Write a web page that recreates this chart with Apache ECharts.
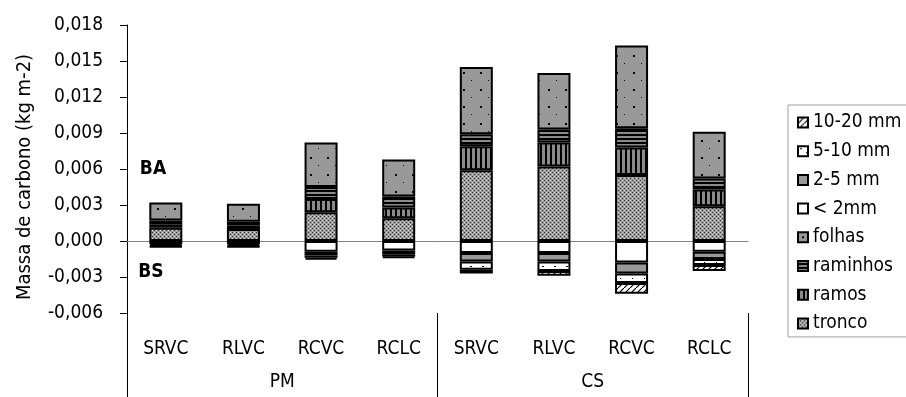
<!DOCTYPE html>
<html>
<head>
<meta charset="utf-8">
<script src="https://cdn.jsdelivr.net/npm/echarts@6/dist/echarts.min.js"></script>
<style>
html,body{margin:0;padding:0;background:#fff;}
#chart{width:906px;height:397px;}
</style>
</head>
<body>
<div id="chart"></div>
<script>
// ---- data ----
const categories = ['SRVC','RLVC','RCVC','RCLC','SRVC','RLVC','RCVC','RCLC'];
const groups = ['PM','CS'];
const yTicks = { min: -0.006, max: 0.018, interval: 0.003 };
// BA (above ground) components
const tronco   = [0.0011, 0.0010, 0.0024, 0.0019, 0.0059, 0.0062, 0.0055, 0.0029];
const ramos    = [0.0003, 0.0003, 0.0011, 0.0009, 0.0020, 0.0020, 0.0023, 0.0014];
const raminhos = [0.0003, 0.0003, 0.0010, 0.0009, 0.0010, 0.0011, 0.0016, 0.0009];
const folhas   = [0.0015, 0.0015, 0.0037, 0.0031, 0.0056, 0.0047, 0.0069, 0.0039];
// BS (below ground) components (negative)
const lt2mm    = [-0.00025, -0.00025, -0.0009, -0.0008, -0.0010, -0.0010, -0.0018, -0.0009];
const mm2_5    = [-0.0001, -0.0001, -0.0003, -0.0003, -0.0007, -0.0007, -0.0009, -0.0006];
const mm5_10   = [-0.0001, -0.0001, -0.0002, -0.0002, -0.0007, -0.0008, -0.0008, -0.0005];
const mm10_20  = [-0.00005, -0.00005, -0.00015, -0.0001, -0.0003, -0.0004, -0.0009, -0.0005];

// ---- patterns ----
function pat(w, h, draw) {
  const c = document.createElement('canvas');
  c.width = w; c.height = h;
  const g = c.getContext('2d');
  draw(g, w, h);
  return { image: c, repeat: 'repeat' };
}
const P = {
  tronco: pat(4, 4, g => {
    g.fillStyle = '#9c9c9c'; g.fillRect(0, 0, 4, 4);
    g.fillStyle = '#333'; g.fillRect(0, 0, 1, 1); g.fillRect(2, 2, 1, 1);
    g.fillStyle = '#d4d4d4'; g.fillRect(2, 0, 1, 1); g.fillRect(0, 2, 1, 1);
  }),
  ramos: pat(5, 1, g => {
    g.fillStyle = '#8a8a8a'; g.fillRect(0, 0, 5, 1);
    g.fillStyle = '#000'; g.fillRect(0, 0, 2, 1);
  }),
  raminhos: pat(1, 4, g => {
    g.fillStyle = '#8a8a8a'; g.fillRect(0, 0, 1, 4);
    g.fillStyle = '#000'; g.fillRect(0, 2, 1, 2);
  }),
  folhas: pat(17, 17, g => {
    g.fillStyle = '#999'; g.fillRect(0, 0, 17, 17);
    g.fillStyle = '#000'; g.fillRect(4, 4, 2, 2); g.fillRect(12, 12, 1, 1);
  }),
  lt2: '#ffffff',
  mm25: '#999999',
  mm510: pat(12, 8, g => {
    g.fillStyle = '#fff'; g.fillRect(0, 0, 12, 8);
    g.fillStyle = '#000'; g.fillRect(2, 2, 2, 1); g.fillRect(8, 6, 1, 1);
  }),
  mm1020: pat(6, 6, g => {
    g.fillStyle = '#fff'; g.fillRect(0, 0, 6, 6);
    g.strokeStyle = '#000'; g.lineWidth = 1.2;
    g.beginPath(); g.moveTo(0, 6); g.lineTo(6, 0); g.stroke();
  })
};

const FONT = "'DejaVu Sans Condensed', 'DejaVu Sans', sans-serif";

function barSeries(name, data, color) {
  return {
    name: name, type: 'bar', stack: 'total', data: data,
    xAxisIndex: 0, barWidth: 33,
    itemStyle: { color: color, borderColor: '#000', borderWidth: 2 },
    emphasis: { disabled: true }
  };
}

const chart = echarts.init(document.getElementById('chart'), null, { renderer: 'canvas' });
chart.setOption({
  animation: false,
  backgroundColor: '#fff',
  textStyle: { fontFamily: FONT },
  grid: { left: 127, right: 158, top: 25, bottom: 84, containLabel: false },
  legend: {
    orient: 'vertical', left: 788, top: 105,
    padding: [8, 8, 4, 9],
    borderColor: '#a0a0a0', borderWidth: 1,
    itemWidth: 10, itemHeight: 10, itemGap: 9.7,
    icon: 'rect',
    itemStyle: { borderColor: '#000', borderWidth: 2 },
    textStyle: { fontFamily: FONT, fontSize: 19, color: '#000', lineHeight: 19 },
    data: ['10-20 mm', '5-10 mm', '2-5 mm', '< 2mm', 'folhas', 'raminhos', 'ramos', 'tronco']
  },
  xAxis: [
    {
      type: 'category', data: categories,
      axisLine: { onZero: true, lineStyle: { color: '#808080', width: 1 } },
      axisTick: { show: false }, axisLabel: { show: false }, splitLine: { show: false }
    },
    {
      type: 'category', data: categories, position: 'bottom',
      axisLine: { show: false, onZero: false }, axisTick: { show: false },
      axisLabel: { interval: 0, margin: 27, fontFamily: FONT, fontSize: 19, color: '#000' }
    },
    {
      type: 'category', data: groups, position: 'bottom',
      axisLine: { show: false, onZero: false },
      axisTick: { show: true, length: 84, lineStyle: { color: '#000', width: 1 } },
      axisLabel: { interval: 0, margin: 60, fontFamily: FONT, fontSize: 19, color: '#000' }
    }
  ],
  yAxis: {
    type: 'value', min: yTicks.min, max: yTicks.max, interval: yTicks.interval,
    axisLine: { show: true, lineStyle: { color: '#000', width: 1 } },
    axisTick: { show: true, length: 7, lineStyle: { color: '#000' } },
    splitLine: { show: false },
    axisLabel: {
      margin: 24, fontFamily: FONT, fontSize: 19, color: '#000',
      formatter: v => (Math.abs(v) < 1e-9 ? 0 : v).toFixed(3).replace('.', ',')
    }
  },
  graphic: [
    { type: 'text', x: 25, y: 177, rotation: Math.PI / 2,
      style: { text: 'Massa de carbono (kg m-2)', font: "20px " + FONT, fill: '#000', textAlign: 'center', textVerticalAlign: 'middle' } },
    { type: 'text', x: 153, y: 169,
      style: { text: 'BA', font: "bold 19px " + FONT, fill: '#000', textAlign: 'center', textVerticalAlign: 'middle' } },
    { type: 'text', x: 151, y: 272,
      style: { text: 'BS', font: "bold 19px " + FONT, fill: '#000', textAlign: 'center', textVerticalAlign: 'middle' } }
  ],
  series: [
    barSeries('tronco', tronco, P.tronco),
    barSeries('ramos', ramos, P.ramos),
    barSeries('raminhos', raminhos, P.raminhos),
    barSeries('folhas', folhas, P.folhas),
    barSeries('< 2mm', lt2mm, P.lt2),
    barSeries('2-5 mm', mm2_5, P.mm25),
    barSeries('5-10 mm', mm5_10, P.mm510),
    barSeries('10-20 mm', mm10_20, P.mm1020)
  ]
});
</script>
</body>
</html>
